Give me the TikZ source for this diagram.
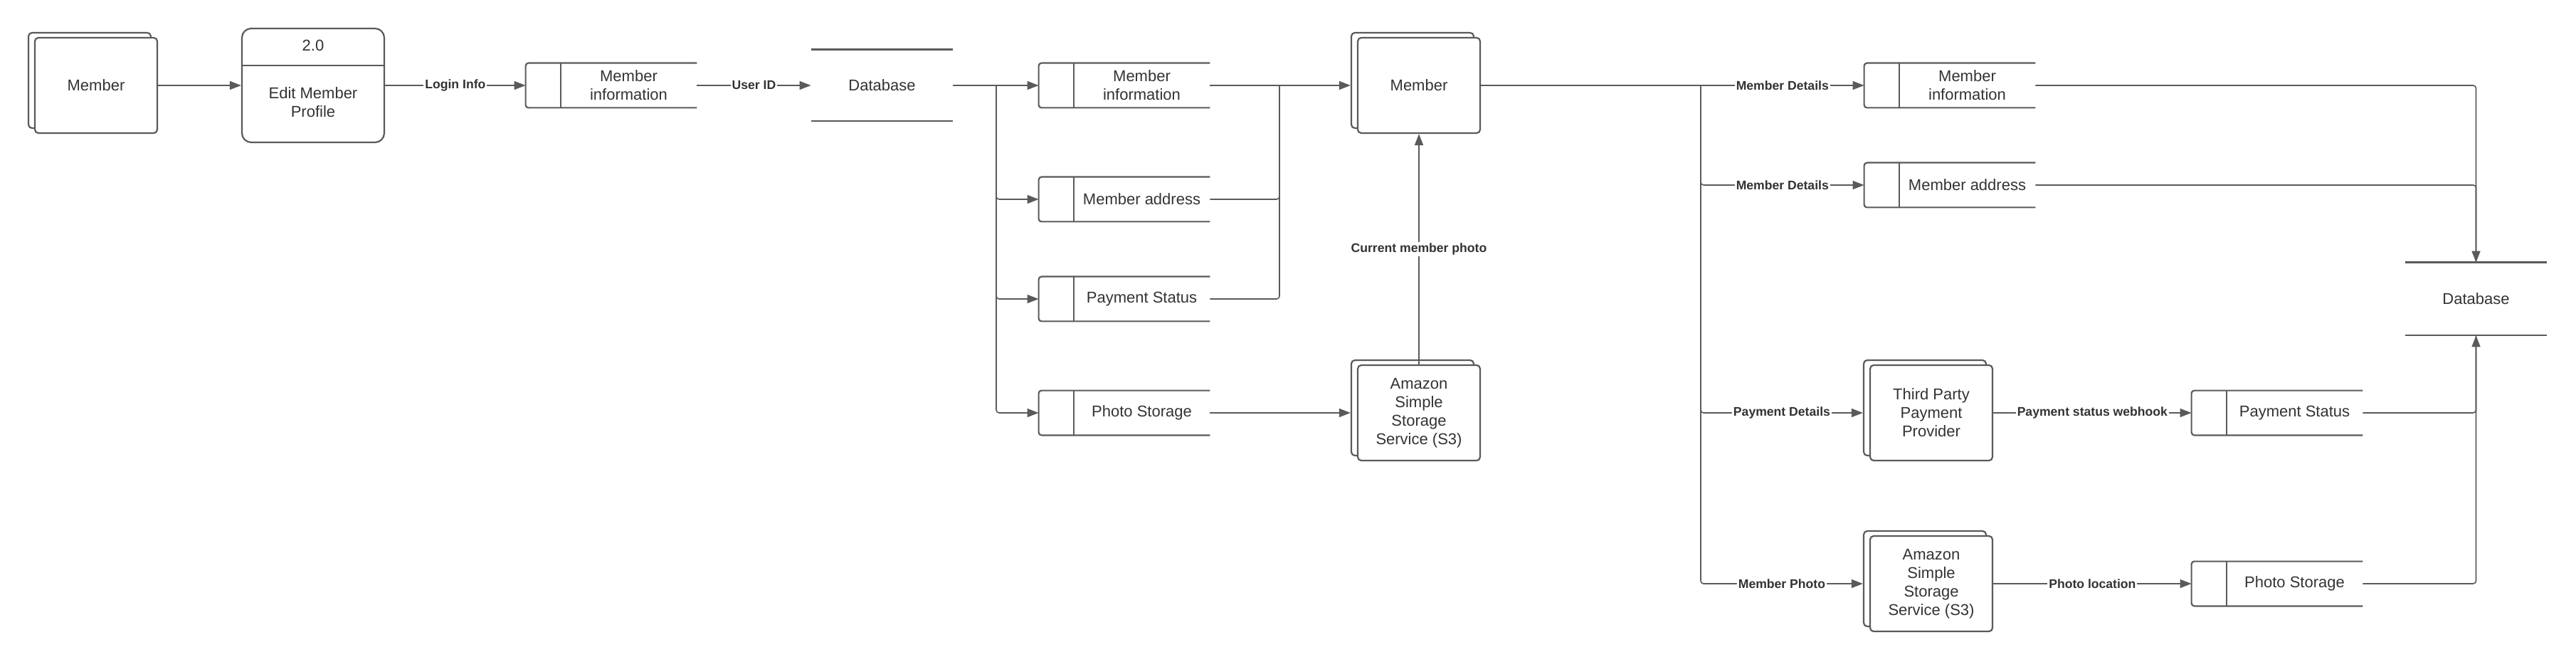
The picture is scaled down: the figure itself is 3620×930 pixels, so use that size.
\documentclass[tikz,border=0pt]{standalone}
\usepackage{fontspec}
\setmainfont{Liberation Sans}
\usetikzlibrary{arrows.meta,calc}
\definecolor{ln}{RGB}{90,90,90}
\definecolor{tx}{RGB}{51,51,51}
\begin{document}
\begin{tikzpicture}[x=0.5pt,y=-0.5pt,
  every node/.style={text=tx, align=center, font=\fontsize{11pt}{13pt}\selectfont},
  extbox/.style={draw=ln, line width=1.1pt, rounded corners=2.5pt, fill=white, minimum width=86pt, minimum height=67pt, inner sep=0pt},
  procbox/.style={draw=ln, line width=1.1pt, rounded corners=6.5pt, fill=white, minimum width=100pt, minimum height=80pt, inner sep=0pt},
  dsarea/.style={minimum width=120pt, minimum height=31pt, inner sep=0pt},
  dbarea/.style={minimum width=99.5pt, minimum height=50pt, inner sep=0pt},
  shapeline/.style={draw=ln, line width=1.1pt},
  conn/.style={draw=ln, line width=0.8pt, -{Triangle[length=8pt,width=6pt]}},
  plain/.style={draw=ln, line width=0.8pt},
  lbl/.style={fill=white, font=\bfseries\fontsize{8.8pt}{10pt}\selectfont, inner sep=1pt, text=tx},
]
\useasboundingbox (0,0) rectangle (3620,930);

% ---------- external entities (back copy, then front) ----------
\node[extbox] (m1b) at (126,113) {};
\node[extbox] (m1) at (135,120) {Member};
\node[extbox] (m2b) at (1985,113) {};
\node[extbox] (m2) at (1994,120) {Member};
\node[extbox] (s3ab) at (1985,573) {};
\node[extbox] (s3a) at (1994,580) {Amazon\\Simple\\Storage\\Service (S3)};
\node[extbox] (tppb) at (2705,573) {};
\node[extbox] (tpp) at (2714,580) {Third Party\\Payment\\Provider};
\node[extbox] (s3bb) at (2705,813) {};
\node[extbox] (s3b) at (2714,820) {Amazon\\Simple\\Storage\\Service (S3)};

% ---------- process ----------
\node[procbox] (p) at (440,120) {};
\draw[shapeline] ($(p.west)+(0,-28)$) -- ($(p.east)+(0,-28)$);
\node (pnum) at (440,64) {2.0};
\node (ptxt) at (440,144) {Edit Member\\Profile};

% ---------- data stores ----------
\node[dsarea] (ds1) at (859,120) {};
\node[dsarea] (ds2) at (1580,120) {};
\node[dsarea] (ds3) at (1580,280) {};
\node[dsarea] (ds4) at (1580,420) {};
\node[dsarea] (ds5) at (1580,580) {};
\node[dsarea] (ds6) at (2740,120) {};
\node[dsarea] (ds7) at (2740,260) {};
\node[dsarea] (ds8) at (3200,580) {};
\node[dsarea] (ds9) at (3200,820) {};
\foreach \d in {ds1,ds2,ds3,ds4,ds5,ds6,ds7,ds8,ds9}{
  \draw[shapeline, rounded corners=2pt] (\d.north east) -- (\d.north west) -- (\d.south west) -- (\d.south east);
  \draw[shapeline] ($(\d.north west)+(49,0)$) -- ($(\d.south west)+(49,0)$);
}
\node (ds1t) at ($(ds1.center)+(24.5,0)$) {Member\\information};
\node (ds2t) at ($(ds2.center)+(24.5,0)$) {Member\\information};
\node (ds3t) at ($(ds3.center)+(24.5,0)$) {Member address};
\node (ds4t) at ($(ds4.center)+(24.5,0)$) {Payment Status};
\node (ds5t) at ($(ds5.center)+(24.5,0)$) {Photo Storage};
\node (ds6t) at ($(ds6.center)+(24.5,0)$) {Member\\information};
\node (ds7t) at ($(ds7.center)+(24.5,0)$) {Member address};
\node (ds8t) at ($(ds8.center)+(24.5,0)$) {Payment Status};
\node (ds9t) at ($(ds9.center)+(24.5,0)$) {Photo Storage};

% ---------- databases ----------
\node[dbarea] (db1) at (1239.5,120) {Database};
\node[dbarea, minimum height=51pt] (db2) at (3479.5,420) {Database};
\foreach \d in {db1,db2}{
  \draw[shapeline] (\d.north west) -- (\d.north east);
  \draw[shapeline] (\d.south west) -- (\d.south east);
}

% ---------- connectors: left part ----------
\draw[conn] (m1.east) -- (p.west);
\draw[conn] (p.east) -- (ds1.west) node[lbl,midway]{Login Info};
\draw[conn] (ds1.east) -- (db1.west) node[lbl,midway]{User ID};
\draw[conn] (db1.east) -- (ds2.west);
\coordinate (lb) at (1400,120);
\draw[conn, rounded corners=2pt] (lb) |- (ds3.west);
\draw[conn, rounded corners=2pt] (lb) |- (ds4.west);
\draw[conn, rounded corners=2pt] (lb) |- (ds5.west);
\coordinate (mg) at (1798,120);
\draw[conn] (ds2.east) -- (m2.west -| m2b.west);
\draw[plain, rounded corners=2pt] (ds3.east) -| (mg);
\draw[plain, rounded corners=2pt] (ds4.east) -| (mg);
\draw[conn] (ds5.east) -- (s3a.west -| s3ab.west);
\draw[conn] (s3a.north) -- (m2.south) node[lbl,midway]{Current member photo};

% ---------- connectors: right part ----------
\coordinate (rb) at (2390,120);
\draw[conn] (m2.east) -- (ds6.west);
\path (rb) -- (ds6.west) node[lbl,midway]{Member Details};
\draw[conn, rounded corners=2pt] (rb) |- (ds7.west) node[lbl,pos=0.75]{Member Details};
\draw[conn, rounded corners=2pt] (rb) |- (tpp.west -| tppb.west) node[lbl,pos=0.75]{Payment Details};
\draw[conn, rounded corners=2pt] (rb) |- (s3b.west -| s3bb.west) node[lbl,pos=0.75]{Member Photo};
\draw[conn] (tpp.east) -- (ds8.west) node[lbl,midway]{Payment status webhook};
\draw[conn] (s3b.east) -- (ds9.west) node[lbl,midway]{Photo location};
\draw[conn, rounded corners=2pt] (ds6.east) -| (db2.north);
\draw[plain, rounded corners=2pt] (ds7.east) -| (db2.north);
\draw[conn, rounded corners=2pt] (ds9.east) -| (db2.south);
\draw[plain, rounded corners=2pt] (ds8.east) -| (db2.south);
\end{tikzpicture}
\end{document}
